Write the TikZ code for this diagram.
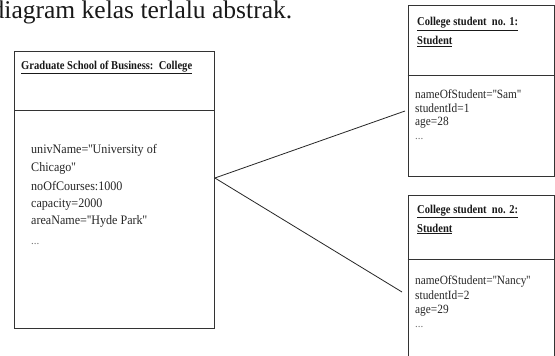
\documentclass[tikz,border=0pt]{standalone}
\usepackage{fontspec}
\setmainfont{Liberation Serif}
\newfontfamily\captionfont[FakeStretch=1.001]{Liberation Serif}
\newfontfamily\bodyfont[FakeStretch=0.93]{Liberation Serif}
\newfontfamily\smallbodyfont[FakeStretch=0.9]{Liberation Serif}
\newfontfamily\headfont[FakeStretch=0.88]{Liberation Serif}
\begin{document}
\begin{tikzpicture}[x=1pt, y=-1pt,
  objbox/.style={draw=black!80, line width=0.9pt, inner sep=0pt, anchor=north west},
  divider/.style={draw=black!80, line width=0.9pt},
  link/.style={draw=black!85, line width=0.8pt},
  headtext/.style={anchor=base west, inner sep=0pt, text=black!90,
    font=\headfont\bfseries\fontsize{12}{14}\selectfont},
  attrtext/.style={anchor=base west, inner sep=0pt, text=black!85,
    font=\bodyfont\fontsize{13}{15}\selectfont},
  smallattr/.style={anchor=base west, inner sep=0pt, text=black!85,
    font=\smallbodyfont\fontsize{12.6}{14}\selectfont},
  dots/.style={anchor=base west, inner sep=0pt, text=black!55,
    font=\captionfont\fontsize{11}{12}\selectfont}]
\useasboundingbox (0,0) rectangle (555,356);
\fill[white] (0,0) rectangle (555,356);

% caption line above the diagram (its first letter runs off the left edge)
\node[anchor=base west, inner sep=0pt, text=black!90,
  font=\captionfont\fontsize{25.5}{27}\selectfont] (caption)
  at (-8.5,18.5) {diagram kelas terlalu abstrak.};

% object: Graduate School of Business
\node[objbox, minimum width=200pt, minimum height=277pt] (school) at (14,51) {};
\draw[divider] (school.west |- 0,110) -- (school.east |- 0,110);
\node[headtext] (schooltitle) at (21,69) {\underline{Graduate School of Business:\ \ College}};
\node[attrtext] (s1) at (31,153) {univName=''University of};
\node[attrtext] (s2) at (31,171) {Chicago''};
\node[attrtext] (s3) at (31,190) {noOfCourses:1000};
\node[attrtext] (s4) at (31,207) {capacity=2000};
\node[attrtext] (s5) at (31,224) {areaName=''Hyde Park''};
\node[dots] (s6) at (31,244) {...};

% object: College student no. 1
\node[objbox, minimum width=146.5pt, minimum height=171pt] (stuA) at (407.5,5) {};
\draw[divider] (stuA.west |- 0,75) -- (stuA.east |- 0,75);
\node[headtext] (atitle1) at (417,26) {\underline{College student\ \ no. 1:}};
\node[headtext] (atitle2) at (417,45) {\underline{Student}};
\node[smallattr] (a1) at (415,98) {nameOfStudent=''Sam''};
\node[smallattr] (a2) at (415,112) {studentId=1};
\node[smallattr] (a3) at (415,125) {age=28};
\node[dots] (a4) at (415,139) {...};

% object: College student no. 2 (continues below the lower edge)
\node[objbox, minimum width=146.5pt, minimum height=180pt] (stuB) at (407.5,195) {};
\draw[divider] (stuB.west |- 0,259) -- (stuB.east |- 0,259);
\node[headtext] (btitle1) at (417,213) {\underline{College student\ \ no. 2:}};
\node[headtext] (btitle2) at (417,232) {\underline{Student}};
\node[smallattr] (b1) at (415,284) {nameOfStudent=''Nancy''};
\node[smallattr] (b2) at (415,299) {studentId=2};
\node[smallattr] (b3) at (415,313) {age=29};
\node[dots] (b4) at (415,327) {...};

% links from the school to each student
\coordinate (hub) at (school.east |- 0,178);
\coordinate (endA) at (405,111);
\coordinate (endB) at (402,292);
\draw[link] (hub) -- (endA);
\draw[link] (hub) -- (endB);
\end{tikzpicture}
\end{document}
